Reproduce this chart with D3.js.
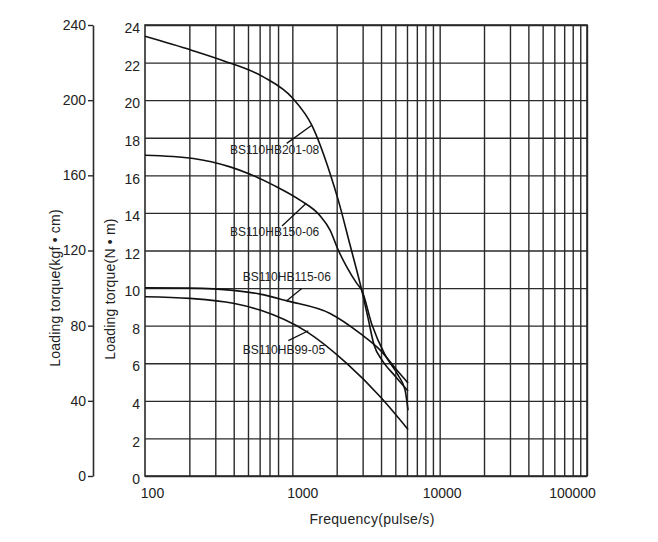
<!DOCTYPE html>
<html>
<head>
<meta charset="utf-8">
<script src="https://cdn.jsdelivr.net/npm/d3@7"></script>
<style>
  body { margin: 0; background: #fff; }
  text { font-family: "Liberation Sans", Arial, sans-serif; fill: #222; }
</style>
</head>
<body>
<div id="visualization"></div>
<script>
// frequency (pulse/s) vs torque (N·m)
const freq201 = [100, 207, 340, 635, 1010, 1355, 1803, 2050, 2465, 2958, 3265, 3587, 4063, 4977, 6100];
const torque201 = [23.4, 22.66, 22.1, 21.24, 20.09, 18.67, 16.1, 14.68, 12.29, 9.89, 8.4, 6.97, 6.17, 5.32, 4.52];

const freq150 = [100, 213, 378, 517, 743, 1127, 1542, 1803, 2050, 2340, 2737, 2958, 3476, 4257, 5219, 5823, 6100];
const torque150 = [17.07, 16.9, 16.45, 16.06, 15.48, 14.68, 13.85, 13.09, 12.02, 11.13, 10.25, 9.89, 8.03, 6.44, 5.37, 4.57, 3.5];

const freq115 = [100, 202, 397, 604, 920, 1803, 2882, 3950, 5114, 6100];
const torque115 = [10.02, 10.0, 9.88, 9.68, 9.32, 8.65, 7.59, 6.7, 5.64, 4.95];

const freq99 = [100, 202, 397, 604, 1250, 2340, 3950, 6100];
const torque99 = [9.54, 9.45, 9.19, 8.83, 7.68, 5.99, 4.22, 2.48];

const seriesNames = ["BS110HB201-08", "BS110HB150-06", "BS110HB115-06", "BS110HB99-05"];

// label anchor (freq, torque) and leader line [from, to]
const labelFreq = [378, 378, 460, 460];
const labelTorque = [17.13, 12.78, 10.39, 6.49];
const leaderFreq = [[916, 1355], [851, 1239], [916, 1158], [939, 1284]];
const leaderTorque = [[17.7, 18.67], [13.3, 14.5], [9.32, 9.98], [7.2, 7.73]];

const gridFreq = [200, 300, 400, 500, 600, 700, 800, 1000,
  2000, 3000, 4000, 5000, 6000, 7000, 8000, 9000, 10000,
  20000, 30000, 40000, 50000, 60000, 70000, 80000, 90000, 100000];
const freqLabels = [100, 1000, 10000, 100000];
const nmTicks = [0, 2, 4, 6, 8, 10, 12, 14, 16, 18, 20, 22, 24];
const kgfTicks = [0, 40, 80, 120, 160, 200, 240];

const width = 658;
const height = 542;
const plot = {left: 145, right: 587, top: 25, bottom: 476};

const svg = d3.select("#visualization").append("svg")
  .attr("width", width)
  .attr("height", height)
  .attr("viewBox", [0, 0, width, height]);

const x = d3.scaleLog().domain([100, 100000]).range([plot.left, plot.right]);
const y = d3.scaleLinear().domain([0, 24]).range([plot.bottom, plot.top]);
const yKgf = d3.scaleLinear().domain([0, 240]).range([plot.bottom, plot.top]);

const gridColor = "#2a2a2a";

// horizontal grid + N·m labels
const gy = svg.append("g")
  .attr("transform", `translate(${plot.left},0)`)
  .call(d3.axisLeft(y).tickValues(nmTicks).tickSize(-(plot.right - plot.left)).tickPadding(5));
gy.select(".domain").remove();
gy.selectAll("line").attr("stroke", gridColor).attr("stroke-width", 1.4);
gy.selectAll("text").attr("font-size", 14).attr("dy", "0.55em").attr("fill", "#222");

// vertical grid
const gx = svg.append("g")
  .attr("transform", `translate(0,${plot.bottom})`)
  .call(d3.axisBottom(x).tickValues(gridFreq).tickSize(-(plot.bottom - plot.top)).tickFormat(""));
gx.select(".domain").remove();
gx.selectAll("line").attr("stroke", gridColor).attr("stroke-width", 1.4);

// frequency labels
const labelShift = [7, 10, 2, -15];
const gl = svg.append("g")
  .attr("transform", `translate(0,${plot.bottom})`)
  .call(d3.axisBottom(x).tickValues(freqLabels).tickSize(0).tickPadding(12).tickFormat(d3.format("d")));
gl.select(".domain").remove();
gl.selectAll("text").attr("font-size", 14).attr("fill", "#222")
  .attr("dx", (d, i) => labelShift[i]);

// plot frame
svg.append("rect")
  .attr("x", plot.left).attr("y", plot.top)
  .attr("width", plot.right - plot.left).attr("height", plot.bottom - plot.top)
  .attr("fill", "none").attr("stroke", gridColor).attr("stroke-width", 1.6);

// outer kgf·cm axis
const gk = svg.append("g")
  .attr("transform", "translate(93,0)")
  .call(d3.axisLeft(yKgf).tickValues(kgfTicks).tickSize(5).tickSizeOuter(0).tickPadding(2));
gk.select(".domain").attr("stroke", gridColor).attr("stroke-width", 1.6);
gk.selectAll("line").attr("stroke", gridColor).attr("stroke-width", 1.4);
gk.selectAll("text").attr("font-size", 14).attr("fill", "#222");

// curves
const curves = [
  [freq201, torque201],
  [freq150, torque150],
  [freq115, torque115],
  [freq99, torque99]
];
const line = d3.line()
  .x(d => x(d[0]))
  .y(d => y(d[1]))
  .curve(d3.curveMonotoneX);

svg.append("g")
  .selectAll("path")
  .data(curves)
  .join("path")
  .attr("d", c => line(d3.zip(c[0], c[1])))
  .attr("fill", "none")
  .attr("stroke", "#111")
  .attr("stroke-width", 1.6);

// leaders and names
svg.append("g")
  .selectAll("line")
  .data(seriesNames)
  .join("line")
  .attr("x1", (d, i) => x(leaderFreq[i][0]))
  .attr("y1", (d, i) => y(leaderTorque[i][0]))
  .attr("x2", (d, i) => x(leaderFreq[i][1]))
  .attr("y2", (d, i) => y(leaderTorque[i][1]))
  .attr("stroke", "#111")
  .attr("stroke-width", 1.3);

svg.append("g")
  .selectAll("text")
  .data(seriesNames)
  .join("text")
  .attr("x", (d, i) => x(labelFreq[i]))
  .attr("y", (d, i) => y(labelTorque[i]))
  .attr("font-size", 12)
  .text(d => d);

// axis titles
svg.append("text")
  .attr("transform", "translate(60,288) rotate(-90)")
  .attr("text-anchor", "middle")
  .attr("font-size", 14)
  .attr("letter-spacing", 0.2)
  .text("Loading torque(kgf \u2022 cm)");

svg.append("text")
  .attr("transform", "translate(115,289) rotate(-90)")
  .attr("text-anchor", "middle")
  .attr("font-size", 14)
  .attr("letter-spacing", 0.2)
  .text("Loading torque(N \u2022 m)");

svg.append("text")
  .attr("x", 372)
  .attr("y", 524)
  .attr("text-anchor", "middle")
  .attr("font-size", 14)
  .attr("letter-spacing", 0.3)
  .text("Frequency(pulse/s)");
</script>
</body>
</html>
